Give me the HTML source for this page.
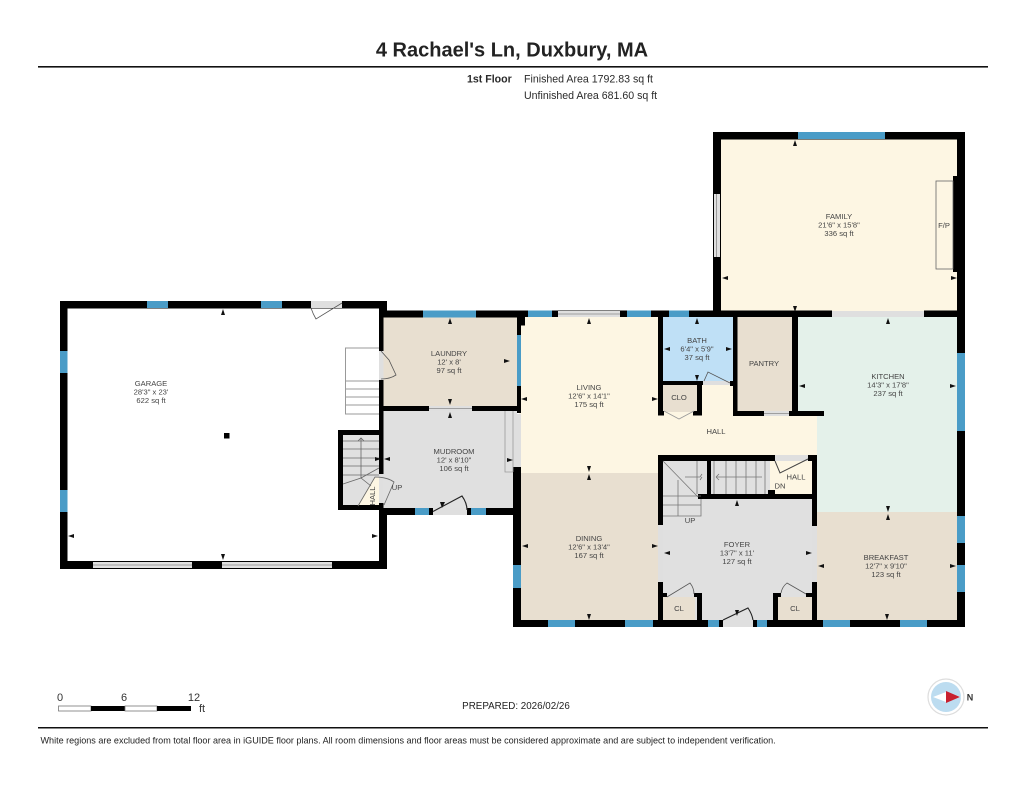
<!DOCTYPE html>
<html><head><meta charset="utf-8"><style>
html,body{margin:0;padding:0;background:#fff;width:1024px;height:791px;overflow:hidden}
svg{display:block;filter:blur(.35px)}
text{font-family:"Liberation Sans",sans-serif;fill:#444;font-size:7.6px;text-anchor:middle}
.s{fill:#2a2a2a;text-anchor:start}
</style></head><body>
<svg width="1024" height="791" viewBox="0 0 1024 791" xmlns="http://www.w3.org/2000/svg">
<!-- header -->
<text x="512" y="56.500" style="font-size:20px;font-weight:bold;fill:#222">4 Rachael's Ln, Duxbury, MA</text>
<rect x="38" y="66" width="950" height="1.600" fill="#111"/>
<text class="s" x="467" y="82.500" style="font-size:10.600px;font-weight:bold">1st Floor</text>
<text class="s" x="524" y="82.500" style="font-size:10.600px">Finished Area 1792.83 sq ft</text>
<text class="s" x="524" y="99" style="font-size:10.600px">Unfinished Area 681.60 sq ft</text>

<!-- room fills -->
<g>
<rect x="383" y="317" width="135" height="90" fill="#e8dfd0"/>
<rect x="383" y="410" width="134" height="99" fill="#e0e0e0"/>
<rect x="519" y="317" width="141" height="156" fill="#fdf6e3"/>
<rect x="660" y="380" width="158" height="76" fill="#fdf6e3"/>
<rect x="519" y="473" width="141" height="148" fill="#e8dfd0"/>
<rect x="661" y="317" width="73" height="65" fill="#bfe0f6"/>
<rect x="663" y="384" width="35" height="28" fill="#e8dfd0"/>
<rect x="736" y="317" width="57" height="95" fill="#e8dfd0"/>
<rect x="796" y="317" width="161" height="99" fill="#e4f1ea"/>
<rect x="817" y="415" width="140" height="98" fill="#e4f1ea"/>
<rect x="817" y="512" width="140" height="109" fill="#e8dfd0"/>
<rect x="720" y="138" width="238" height="175" fill="#fdf6e3"/>
<rect x="662" y="498" width="151" height="123" fill="#e0e0e0"/>
<rect x="662" y="460" width="47" height="40" fill="#e0e0e0"/>
<rect x="710" y="460" width="60" height="36" fill="#e0e0e0"/>
<rect x="770" y="460" width="43" height="36" fill="#fdf6e3"/>
<rect x="663" y="597" width="32" height="24" fill="#e8dfd0"/>
<rect x="778" y="597" width="35" height="24" fill="#e8dfd0"/>
<rect x="342" y="434" width="38" height="72" fill="#e0e0e0"/>
</g>

<!-- walls -->
<g fill="#000">
<!-- garage -->
<rect x="60" y="301" width="327" height="7.500"/>
<rect x="60" y="301" width="7.500" height="268"/>
<rect x="60" y="561" width="327" height="8"/>
<rect x="379" y="301" width="4.500" height="268"/>
<rect x="379" y="515" width="8" height="54"/>
<rect x="379" y="301" width="8" height="16"/>
<!-- small hall/stair box -->
<rect x="338" y="430" width="43" height="5"/>
<rect x="338" y="430" width="5" height="80"/>
<rect x="338" y="505" width="43" height="5"/>
<!-- laundry / mudroom -->
<rect x="382" y="310.500" width="140" height="7"/>
<rect x="381" y="406" width="140" height="5"/>
<rect x="381" y="508" width="136" height="7"/>
<!-- living left -->
<rect x="517" y="310.500" width="8" height="15"/>
<rect x="517" y="317" width="4" height="96"/>
<rect x="513" y="467" width="8" height="160"/>
<!-- top center -->
<rect x="520" y="310.500" width="166" height="6.500"/>
<rect x="658" y="310.500" width="5" height="16"/>
<rect x="658" y="317" width="5" height="98"/>
<rect x="684" y="310.500" width="148" height="6.500"/>
<rect x="924" y="310.500" width="33" height="6.500"/>
<!-- bath / closet -->
<rect x="658" y="381" width="46" height="4"/>
<rect x="697" y="381" width="5" height="34"/>
<rect x="658" y="411" width="6" height="4.500"/>
<rect x="693" y="411" width="9" height="4.500"/>
<rect x="730" y="381" width="5" height="5"/>
<!-- pantry -->
<rect x="733" y="311" width="4.500" height="105"/>
<rect x="792" y="311" width="6" height="105"/>
<rect x="733" y="411" width="91" height="5"/>
<!-- family -->
<rect x="713" y="132" width="252" height="7.500"/>
<rect x="713" y="132" width="8" height="185"/>
<rect x="957" y="132" width="8" height="495"/>
<rect x="953" y="176" width="4" height="96"/>
<!-- stair block -->
<rect x="658" y="455" width="117" height="6"/>
<rect x="808" y="455" width="9" height="6"/>
<rect x="658" y="455" width="5" height="70"/>
<rect x="707" y="455" width="4" height="44"/>
<rect x="698" y="494" width="119" height="5"/>
<rect x="812" y="455" width="5" height="71"/>
<rect x="768" y="455" width="7" height="6"/>
<rect x="768" y="490" width="7" height="6"/>
<!-- foyer lower -->
<rect x="658" y="582" width="5" height="45"/>
<rect x="812" y="582" width="5" height="45"/>
<rect x="658" y="593" width="9" height="4"/>
<rect x="694" y="593" width="8" height="4"/>
<rect x="697" y="593" width="5" height="30"/>
<rect x="773" y="593" width="5" height="30"/>
<rect x="773" y="593" width="8" height="4"/>
<rect x="806" y="593" width="8" height="4"/>
<rect x="513" y="620" width="452" height="7"/>
</g>

<!-- windows -->
<g fill="#4a9cc7">
<rect x="147" y="301" width="21" height="7"/><rect x="261" y="301" width="21" height="7"/>
<rect x="60" y="351" width="7.500" height="22"/><rect x="60" y="490" width="7.500" height="22"/>
<rect x="423" y="310.500" width="53" height="7"/>
<rect x="517" y="335" width="4" height="51"/>
<rect x="528" y="310.500" width="24" height="6.500"/><rect x="627" y="310.500" width="24" height="6.500"/>
<rect x="669" y="310.500" width="20" height="6.500"/>
<rect x="798" y="132" width="87" height="7"/>
<rect x="957" y="353" width="8" height="78"/><rect x="957" y="516" width="8" height="27"/><rect x="957" y="565" width="8" height="27"/>
<rect x="415" y="508" width="14" height="7"/><rect x="471" y="508" width="15" height="7"/>
<rect x="513" y="565" width="8" height="23"/>
<rect x="548" y="620" width="27" height="7"/><rect x="625" y="620" width="28" height="7"/>
<rect x="708" y="620" width="11" height="7"/><rect x="757" y="620" width="10" height="7"/>
<rect x="823" y="620" width="27" height="7"/><rect x="900" y="620" width="27" height="7"/>
</g>

<!-- openings / sliders -->
<g fill="#dfdfdf">
<rect x="311" y="301" width="31" height="7"/>
<rect x="93" y="562" width="99" height="6"/><rect x="222" y="562" width="110" height="6"/>
<rect x="429" y="406" width="43" height="5"/>
<rect x="558" y="311" width="62" height="6"/>
<rect x="832" y="311" width="92" height="6"/>
<rect x="714" y="194" width="6" height="63"/>
<rect x="764" y="411" width="25" height="5"/>
<rect x="703" y="381" width="27" height="4"/>
<rect x="433" y="508" width="34" height="7"/>
<rect x="723" y="620" width="30" height="7"/>
<rect x="775" y="455" width="33" height="6"/>
<rect x="658" y="525" width="5" height="57"/>
<rect x="812" y="526" width="5" height="56"/>
<rect x="379" y="351" width="4.500" height="29"/>
<rect x="379" y="474" width="4.500" height="29"/>
<rect x="514" y="414" width="7" height="53"/>
</g>
<polygon points="358,505 375,477 379,477 379,505" fill="#fdf6e3"/>
<g fill="none" stroke="#8a8a8a" stroke-width=".8">
<path d="M93 565H192M222 565H332M558 314H620M429 408.500H472M764 413.500H789"/>
<path d="M716.500 194V257"/>
<rect x="936" y="181" width="17" height="88" stroke="#666"/>
<path d="M505 411V472H513M513 411V472" stroke="#999"/>
<!-- garage stairs -->
<path d="M379 348H345.500V414H379M345.500 381H379M345.500 389H379M345.500 397H379M345.500 405H379" stroke="#999" stroke-width="1"/>
<!-- door arcs -->
<path d="M311 308Q313 314 316 319L342 303" stroke="#555"/>
<path d="M381 351L389 360L396 375Q390 379 381 379" stroke="#555"/>
<path d="M433 511.500L462 496Q467 503 467 510" stroke="#222" stroke-width="1.100"/>
<path d="M704 381L708 372L730 383" stroke="#555"/>
<path d="M667 597L690 583Q694 588 694 594" stroke="#555"/>
<path d="M806 594L787 583Q782 587 781 593" stroke="#555"/>
<path d="M723 620L748 608Q752 614 753 620" stroke="#222" stroke-width="1.100"/>
<path d="M775 461L780 473L808 459" stroke="#444" stroke-width="1"/>
<path d="M664 411L679 419L694 411" stroke="#999"/>
<!-- small stair -->
<path d="M343 441H379M343 449H379M343 458H379M343 466H379M343 475H379" stroke="#888" stroke-width="1"/>
<path d="M361 478V438M358 441L361 438L364 441" stroke="#666"/>
<path d="M343 484L361 478L379 468M361 478L371 486M358 506L375 477Q387 477 394 482L384 505" stroke="#666"/>
<!-- foyer stairs -->
<path d="M663 461L698 497M663 496H701M663 505H701M663 516H701V499M678 480V516M697 461V494" stroke="#777"/>
<path d="M714 461V494M726 461V494M736 461V494M746 461V494M756 461V494M765 461V494M716 477H762M716 477L719 474M716 477L719 480M685 477H700L702 474M700 480L702 477" stroke="#777"/>
</g>
<rect x="224" y="433" width="5.500" height="5.500" fill="#000"/>

<!-- dimension arrows -->
<g fill="#111">
<path d="M223 309l-2 6h4zM223 560l-2-6h4zM68 536l6-2v4zM378 536l-6-2v4z"/>
<path d="M450 318l-2 6h4zM450 405l-2-6h4zM450 412l-2 6h4zM510 361l-6-2v4zM384 459l6-2v4zM513 460l-6-2v4z"/>
<path d="M589 318l-2 6h4zM589 472l-2-6h4zM589 474l-2 6h4zM589 620l-2-6h4zM521 399l6-2v4zM658 399l-6-2v4zM522 546l6-2v4zM658 546l-6-2v4z"/>
<path d="M442 508l-2-6h5z"/>
<path d="M697 318l-2 6h4zM697 381l-2-6h4zM664 349l6-2v4zM732 349l-6-2v4z"/>
<path d="M888 318l-2 6h4zM888 512l-2-6h4zM888 514l-2 6h4zM887 620l-2-6h4zM799 386l6-2v4zM956 386l-6-2v4zM818 566l6-2v4zM956 566l-6-2v4z"/>
<path d="M795 140l-2 6h4zM795 312l-2-6h4zM722 278l6-2v4zM957 278l-6-2v4z"/>
<path d="M737 500l-2 6h4zM664 553l6-2v4zM812 553l-6-2v4zM737 616l-2-6h4z"/>
<path d="M381 459l-6-2v4z"/>
</g>

<!-- labels -->
<text x="151" y="386">GARAGE</text><text x="151" y="394.500">28'3" x 23'</text><text x="151" y="403">622 sq ft</text>
<text x="449" y="356">LAUNDRY</text><text x="449" y="364.500">12' x 8'</text><text x="449" y="373">97 sq ft</text>
<text x="454" y="454">MUDROOM</text><text x="454" y="462.500">12' x 8'10"</text><text x="454" y="471">106 sq ft</text>
<text x="589" y="390">LIVING</text><text x="589" y="398.500">12'6" x 14'1"</text><text x="589" y="407">175 sq ft</text>
<text x="589" y="541">DINING</text><text x="589" y="549.500">12'6" x 13'4"</text><text x="589" y="558">167 sq ft</text>
<text x="697" y="343">BATH</text><text x="697" y="351.500">6'4" x 5'9"</text><text x="697" y="360">37 sq ft</text>
<text x="764" y="366">PANTRY</text>
<text x="679" y="400">CLO</text>
<text x="716" y="434">HALL</text>
<text x="796" y="479.500">HALL</text>
<text x="780" y="488.500">DN</text>
<text x="690" y="523">UP</text>
<text x="397" y="490">UP</text>
<text transform="translate(375 496) rotate(-90)" x="0" y="0">HALL</text>
<text x="888" y="379">KITCHEN</text><text x="888" y="387.500">14'3" x 17'8"</text><text x="888" y="396">237 sq ft</text>
<text x="737" y="547">FOYER</text><text x="737" y="555.500">13'7" x 11'</text><text x="737" y="564">127 sq ft</text>
<text x="886" y="560">BREAKFAST</text><text x="886" y="568.500">12'7" x 9'10"</text><text x="886" y="577">123 sq ft</text>
<text x="839" y="219">FAMILY</text><text x="839" y="227.500">21'6" x 15'8"</text><text x="839" y="236">336 sq ft</text>
<text x="944" y="228">F/P</text>
<text x="679" y="611">CL</text><text x="795" y="611">CL</text>

<!-- scale bar -->
<text x="60" y="701" style="font-size:11px;fill:#333">0</text>
<text x="124" y="701" style="font-size:11px;fill:#333">6</text>
<text x="194" y="701" style="font-size:11px;fill:#333">12</text>
<text x="202" y="712" style="font-size:11px;fill:#333">ft</text>
<rect x="58.500" y="706" width="32.500" height="5" fill="#fff" stroke="#777" stroke-width=".8"/>
<rect x="91" y="706" width="34" height="5" fill="#000"/>
<rect x="125" y="706" width="32" height="5" fill="#fff" stroke="#777" stroke-width=".8"/>
<rect x="157" y="706" width="34" height="5" fill="#000"/>
<text x="516" y="709" style="font-size:9.800px;fill:#222">PREPARED: 2026/02/26</text>

<!-- compass -->
<circle cx="946" cy="697" r="18" fill="#fff" stroke="#ddd" stroke-width="1.200"/>
<circle cx="946" cy="697" r="15" fill="#bcdcf0"/>
<path d="M961 697L946 692L933 697L946 702z" fill="#fff"/>
<path d="M960 697L946 691V703z" fill="#c8202f"/>
<text x="970" y="700.500" style="font-size:9px;fill:#333;font-weight:bold">N</text>

<!-- footer -->
<rect x="38" y="727" width="950" height="1.500" fill="#111"/>
<text class="s" x="40.500" y="743.500" style="font-size:9.060px;fill:#222">White regions are excluded from total floor area in iGUIDE floor plans. All room dimensions and floor areas must be considered approximate and are subject to independent verification.</text>
</svg>
</body></html>
